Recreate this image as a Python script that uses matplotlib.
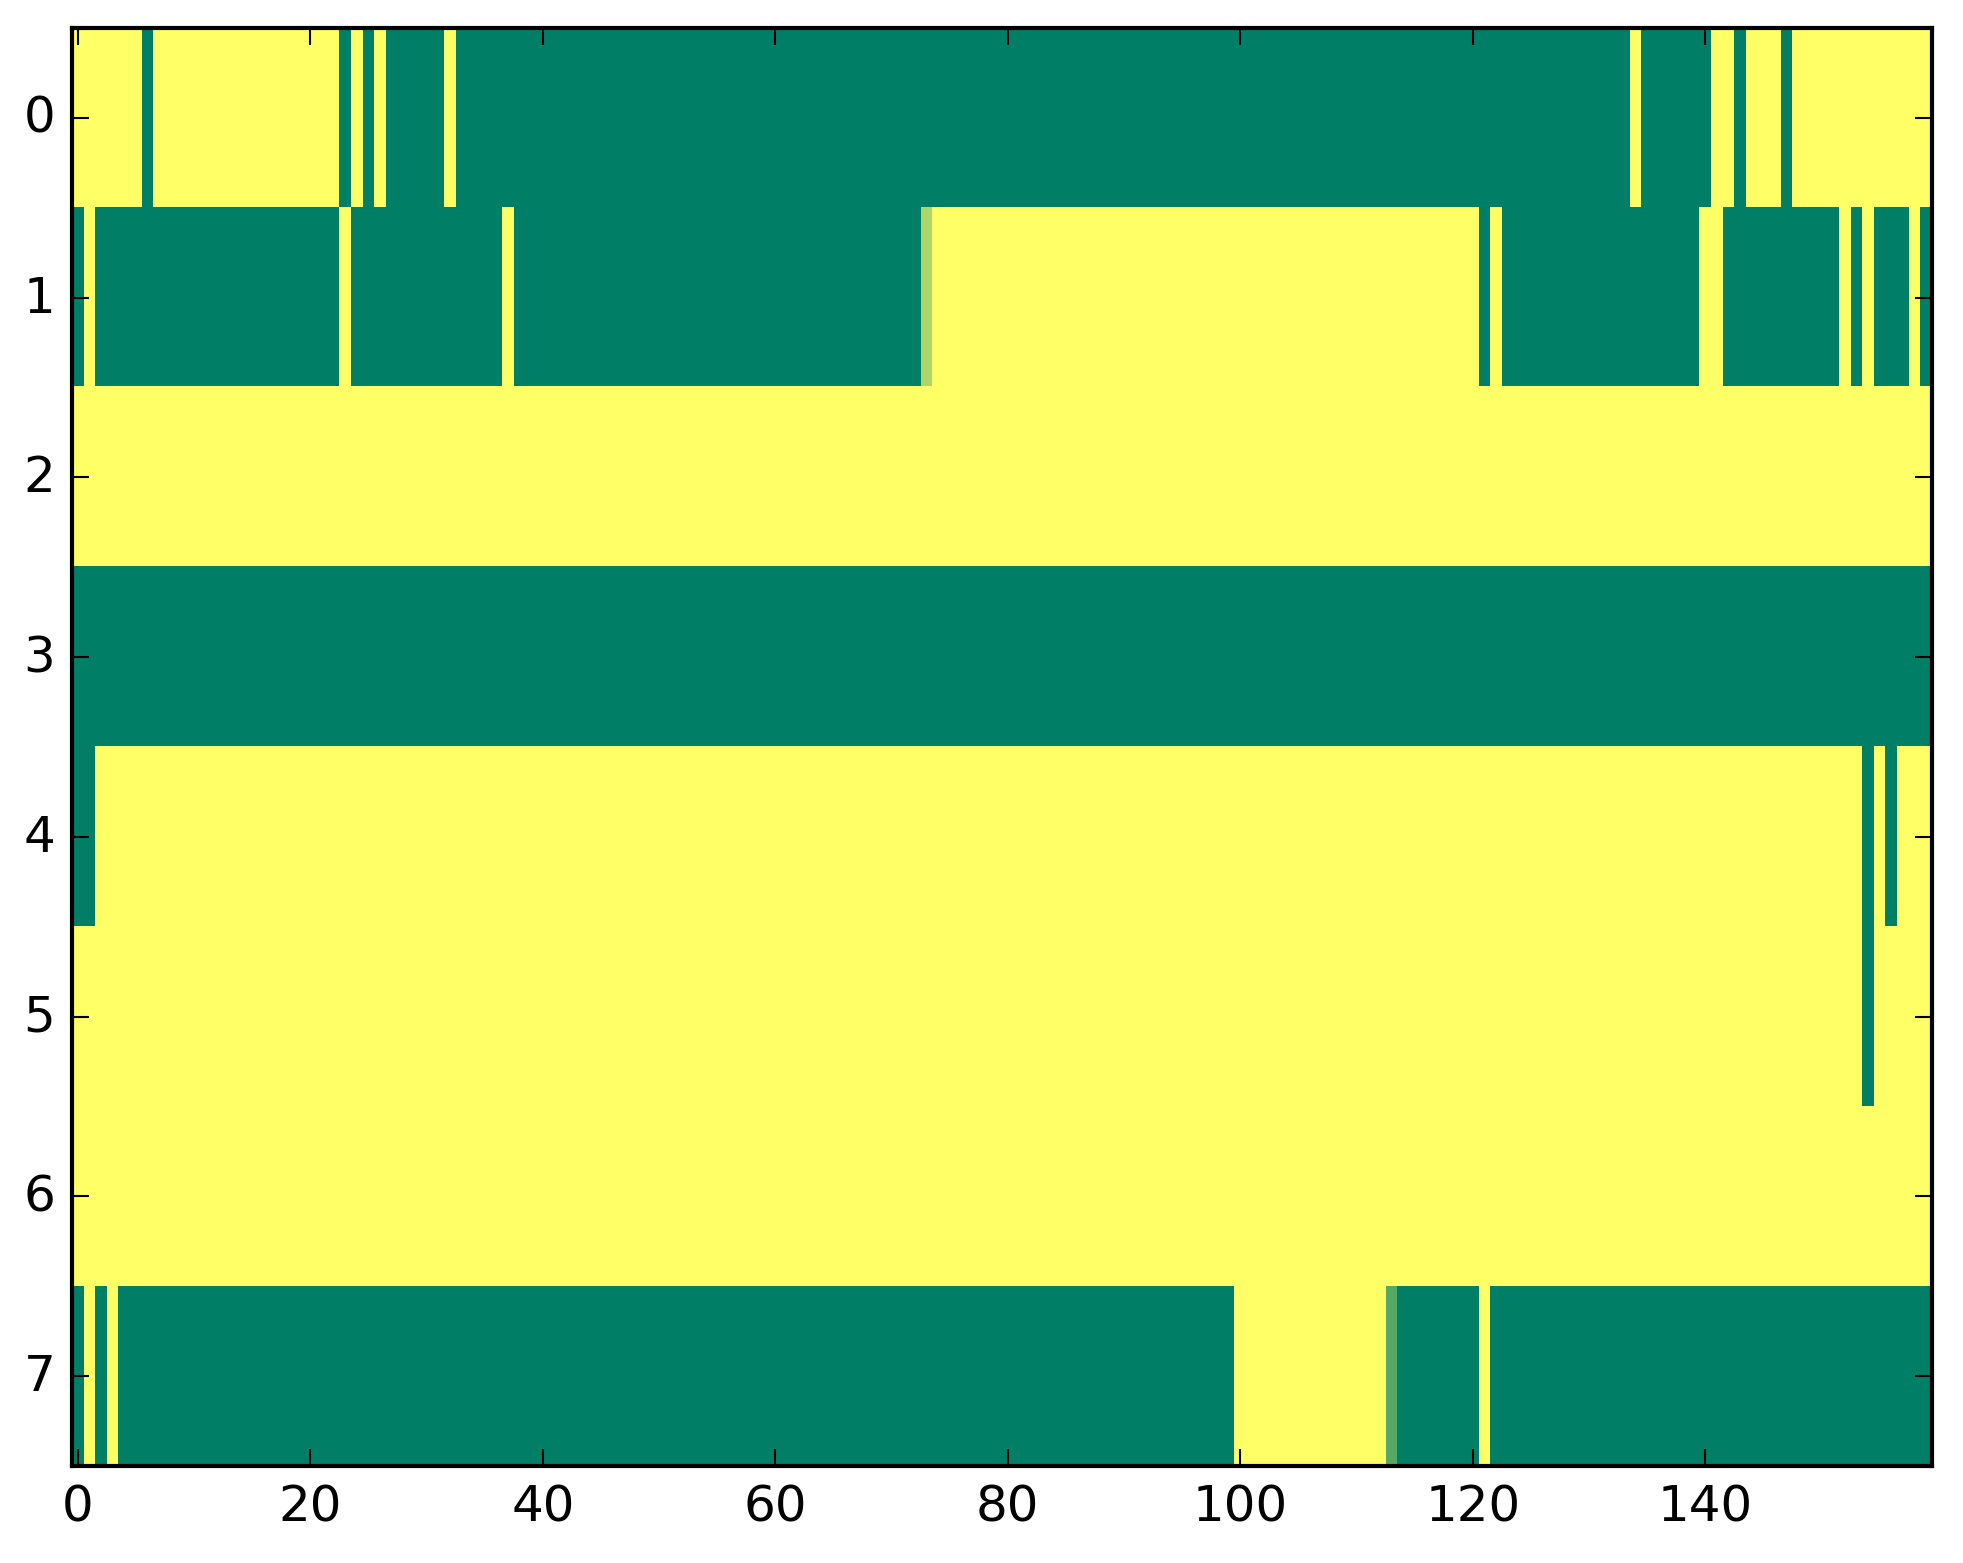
import matplotlib
matplotlib.use("Agg")
import matplotlib.pyplot as plt
import numpy as np

plt.style.use('classic')

# one string per row, 160 cells; '0' = low, '1' = high, 'a'/'b' = in-between cells
row0 = ("1111110111 1111111111 1110101000 0010000000 0000000000 0000000000 "
        "0000000000 0000000000 0000000000 0000000000 0000000000 0000000000 "
        "0000000000 0000100000 0110111011 1111111111")
row1 = ("0100000000 0000000000 0001000000 0000000100 0000000000 0000000000 "
        "0000000000 000a111111 1111111111 1111111111 1111111111 1111111111 "
        "1010000000 0000000000 1100000000 0010100010")
row2 = ("1111111111 1111111111 1111111111 1111111111 1111111111 1111111111 "
        "1111111111 1111111111 1111111111 1111111111 1111111111 1111111111 "
        "1111111111 1111111111 1111111111 1111111111")
row3 = ("0000000000 0000000000 0000000000 0000000000 0000000000 0000000000 "
        "0000000000 0000000000 0000000000 0000000000 0000000000 0000000000 "
        "0000000000 0000000000 0000000000 0000000000")
row4 = ("0011111111 1111111111 1111111111 1111111111 1111111111 1111111111 "
        "1111111111 1111111111 1111111111 1111111111 1111111111 1111111111 "
        "1111111111 1111111111 1111111111 1111010111")
row5 = ("1111111111 1111111111 1111111111 1111111111 1111111111 1111111111 "
        "1111111111 1111111111 1111111111 1111111111 1111111111 1111111111 "
        "1111111111 1111111111 1111111111 1111011111")
row6 = ("1111111111 1111111111 1111111111 1111111111 1111111111 1111111111 "
        "1111111111 1111111111 1111111111 1111111111 1111111111 1111111111 "
        "1111111111 1111111111 1111111111 1111111111")
row7 = ("0101000000 0000000000 0000000000 0000000000 0000000000 0000000000 "
        "0000000000 0000000000 0000000000 0000000000 1111111111 111b000000 "
        "0100000000 0000000000 0000000000 0000000000")

codes = {'0': 0.0, '1': 1.0, 'a': 0.68, 'b': 0.33}
rows = [row0, row1, row2, row3, row4, row5, row6, row7]

grid = np.array([[codes[c] for c in r.replace(" ", "")] for r in rows])
print(grid.shape)

fig = plt.figure(figsize=(1963 / 300, 1564 / 300), dpi=300, facecolor='white')
ax = fig.add_axes([0.0367, 0.062, 0.9475, 0.9195])
ax.imshow(grid, cmap='summer', vmin=0, vmax=1, aspect='auto', interpolation='nearest')
ax.set_xticks(np.arange(0, 160, 20))
ax.set_yticks(np.arange(8))
ax.set_xlim(-0.5, 159.5)
ax.set_ylim(7.5, -0.5)
ax.tick_params(labelsize=12)

fig.savefig("out.png", dpi=300, facecolor='white')
